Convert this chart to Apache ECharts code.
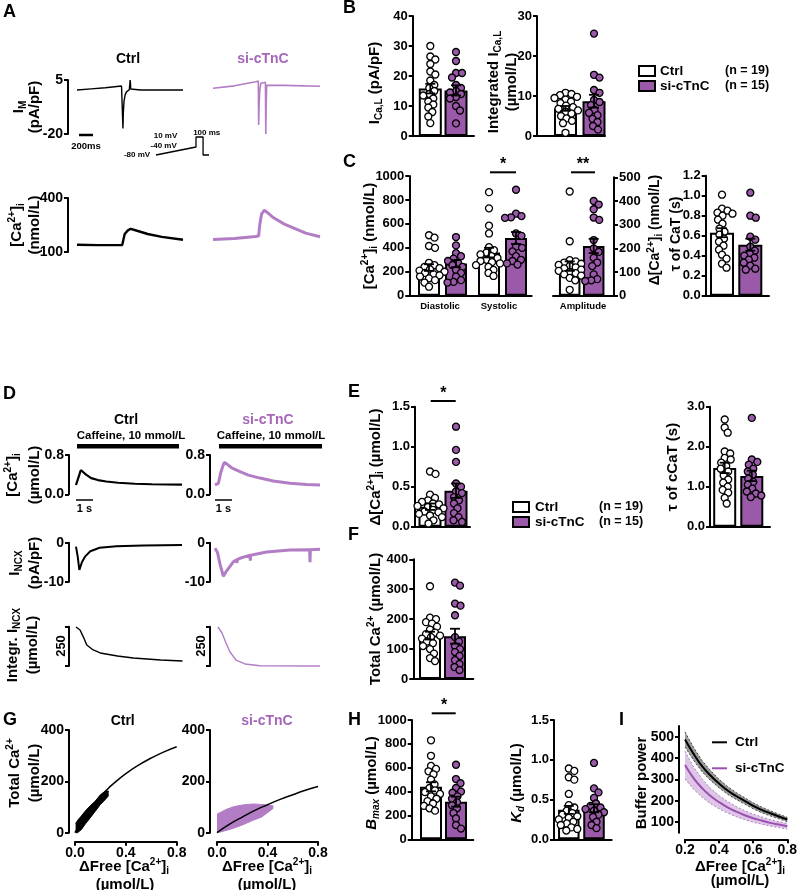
<!DOCTYPE html>
<html><head><meta charset="utf-8">
<script src="https://cdn.jsdelivr.net/npm/echarts@6/dist/echarts.min.js"></script>
<style>html,body{margin:0;padding:0;background:#fff}#c{width:800px;height:890px}</style>
</head><body><div id="c"></div>
<script>
// ================= DATA =================
const groupNames = ['Ctrl', 'si-cTnC'];
const groupN = [19, 15];
// Panel A traces: [time (ms), value]
const imCtrl = [[0,0.4],[200,0.9],[400,1.4],[630,2.2],[645,2.0],[650,-17.4],[656,-10],[665,-5],[680,-2],[700,-0.5],[740,0.5],[748,0.5],[752,5],[757,3.5],[760,0.8],[780,0.5],[900,0.4],[1500,0.4]];
const imSi = [[0,1.2],[300,2.3],[600,4.2],[635,4.5],[640,-15.8],[645,-8],[655,0],[670,3.5],[690,4.3],[735,4],[740,-20],[745,-8],[752,2.6],[760,2.8],[1000,2.5],[1500,2.1]];
const caACtrl = [[0,140],[300,138],[640,139],[655,165],[675,200],[720,220],[760,229],[850,218],[1000,200],[1200,184],[1500,168]];
const caASi = [[0,170],[300,175],[600,186],[640,190],[655,250],[680,310],[720,333],[760,320],[850,290],[1000,255],[1100,238],[1300,205],[1500,185]];
const protocol = [[0,-80],[566,-40],[566,10],[666,10],[666,-80],[750,-80]];
// Panel B
const icalCtrl = [30, 26.5, 25.5, 24, 21.5, 20.5, 18.5, 17, 16, 15, 14, 13.5, 12.5, 11.5, 10.5, 9.5, 8, 6.5, 4.3];
const icalSi = [28, 25, 21, 21, 19.5, 17, 16, 15, 14.5, 14, 13, 12.5, 10, 8.5, 4.2];
const icalMean = [15.8, 15.2], icalSem = [1.6, 1.7];
const intIcalCtrl = [10.8, 10.5, 10.2, 9.8, 9.5, 9.1, 8.6, 8.2, 7.6, 7.2, 6.8, 6.4, 6.0, 5.6, 5.0, 4.4, 3.8, 3.2, 0.8];
const intIcalSi = [25.6, 15.3, 14.6, 11.5, 10.8, 9.0, 8.5, 7.7, 6.5, 5.8, 5.2, 4.3, 3.5, 2.5, 1.6];
const intIcalMean = [6.9, 8.7], intIcalSem = [0.6, 1.6];
// Panel C
const diaCtrl = [505, 485, 415, 400, 275, 255, 240, 230, 220, 210, 200, 190, 180, 170, 160, 145, 130, 110, 75];
const diaSi = [490, 420, 355, 330, 310, 290, 275, 255, 240, 215, 190, 160, 130, 115, 110];
const sysCtrl = [865, 730, 585, 520, 405, 380, 360, 345, 330, 315, 300, 290, 280, 270, 255, 240, 215, 190, 165];
const sysSi = [885, 685, 665, 655, 650, 520, 500, 410, 400, 370, 330, 300, 290, 270, 260];
const caMean = [235, 268, 360, 482], caSem = [28, 30, 40, 50];
const caCategories = ['Diastolic', 'Systolic'];
const ampCtrl = [440, 230, 150, 145, 140, 135, 130, 125, 120, 115, 110, 105, 100, 95, 90, 85, 75, 65, 25];
const ampSi = [400, 385, 365, 330, 320, 235, 200, 185, 160, 140, 125, 90, 70, 65, 62];
const ampMean = [125, 210], ampSem = [20, 30];
const tauCtrl = [1.01, 0.87, 0.85, 0.83, 0.82, 0.80, 0.76, 0.72, 0.67, 0.64, 0.61, 0.57, 0.54, 0.50, 0.46, 0.41, 0.37, 0.32, 0.28];
const tauSi = [1.03, 0.80, 0.78, 0.59, 0.56, 0.49, 0.45, 0.42, 0.40, 0.38, 0.36, 0.33, 0.30, 0.27, 0.26];
const tauMean = [0.63, 0.51], tauSem = [0.045, 0.06];
// Panel D traces: [time (s), value]
const dCaCtrl = [[0,0.19],[0.1,0.21],[0.2,0.40],[0.28,0.49],[0.4,0.46],[0.6,0.40],[0.9,0.33],[1.3,0.29],[1.8,0.26],[2.5,0.235],[3.5,0.215],[4.5,0.205],[6.3,0.197]];
const dCaSi = [[0,0.19],[0.2,0.22],[0.35,0.45],[0.55,0.65],[0.7,0.62],[1.0,0.54],[1.5,0.46],[2.0,0.39],[2.7,0.33],[3.5,0.27],[4.5,0.225],[5.5,0.2],[6.3,0.19]];
const incxCtrl = [[0,-1.0],[0.1,-3.5],[0.2,-7.0],[0.35,-5.0],[0.55,-3.5],[0.85,-2.2],[1.4,-1.3],[2.4,-0.9],[4.0,-0.7],[6.3,-0.6]];
const incxSi = [[0,-1.4],[0.15,-2.5],[0.3,-5.5],[0.5,-8.6],[0.7,-7.2],[1.1,-4.9],[1.3,-4.4],[1.32,-5.2],[1.34,-4.3],[1.5,-4.0],[2.1,-3.2],[2.12,-4.6],[2.14,-3.2],[3.1,-2.4],[4.5,-1.9],[5.68,-1.8],[5.7,-5.0],[5.72,-1.8],[6.3,-1.7]];
const integCtrl = [[0,248],[0.24,229],[0.44,184],[0.64,134],[1.02,102],[1.44,83],[2.46,64],[3.41,51],[5.03,38],[6.33,32]];
const integSi = [[0.18,248],[0.42,210],[0.66,146],[0.9,89],[1.26,38],[1.8,13],[2.7,2],[6.3,0]];
// Panel E
const caffCtrl = [0.69, 0.66, 0.40, 0.36, 0.33, 0.31, 0.29, 0.28, 0.26, 0.25, 0.23, 0.21, 0.19, 0.18, 0.16, 0.14, 0.12, 0.08, 0.04];
const caffSi = [1.25, 0.96, 0.81, 0.54, 0.50, 0.44, 0.42, 0.37, 0.33, 0.29, 0.23, 0.17, 0.12, 0.08, 0.06];
const caffMean = [0.25, 0.45], caffSem = [0.04, 0.09];
const tauCCtrl = [2.68, 2.48, 2.35, 1.88, 1.83, 1.72, 1.68, 1.60, 1.52, 1.45, 1.38, 1.28, 1.18, 1.10, 1.00, 0.92, 0.85, 0.72, 0.58];
const tauCSi = [2.72, 1.68, 1.62, 1.55, 1.45, 1.38, 1.30, 1.20, 1.12, 1.05, 0.95, 0.88, 0.83, 0.78, 0.74];
const tauCMean = [1.47, 1.27], tauCSem = [0.13, 0.13];
// Panel F
const totCtrl = [310, 205, 200, 190, 185, 175, 165, 155, 150, 145, 140, 135, 125, 120, 110, 100, 85, 70, 60];
const totSi = [322, 312, 252, 245, 213, 140, 125, 110, 100, 90, 77, 63, 50, 40, 30];
const totMean = [145, 143], totSem = [13, 25];
// Panel G
const gCtrlX = [0.005, 0.02, 0.05, 0.08, 0.12, 0.16, 0.2, 0.24, 0.265];
const gCtrlLo = [0, 0, 12, 33, 58, 84, 110, 130, 145];
const gCtrlHi = [35, 48, 65, 84, 105, 123, 148, 162, 162];
const gCtrlFitX = [0, 0.05, 0.1, 0.15, 0.2, 0.25, 0.3, 0.4, 0.5, 0.6, 0.7, 0.8];
const gCtrlFitY = [0, 42, 79, 113, 141, 167, 190, 230, 263, 291, 315, 335];
const gSiX = [0, 0.03, 0.08, 0.13, 0.2, 0.29, 0.35, 0.4, 0.446];
const gSiLo = [0, 3, 10, 17, 30, 49, 60, 78, 95];
const gSiHi = [72, 80, 92, 101, 108, 112, 110, 108, 104];
const gSiFitX = [0, 0.1, 0.2, 0.3, 0.4, 0.5, 0.6, 0.7, 0.8];
const gSiFitY = [0, 33, 61, 87, 109, 130, 148, 165, 180];
// Panel H
const bmaxCtrl = [830, 700, 615, 590, 570, 545, 500, 460, 430, 410, 395, 380, 360, 340, 320, 300, 280, 260, 240];
const bmaxSi = [625, 505, 470, 430, 400, 390, 360, 340, 310, 285, 260, 220, 175, 120, 90];
const bmaxMean = [440, 315], bmaxSem = [38, 42];
const kdCtrl = [0.89, 0.86, 0.78, 0.75, 0.57, 0.43, 0.40, 0.36, 0.33, 0.31, 0.29, 0.27, 0.25, 0.22, 0.20, 0.18, 0.15, 0.13, 0.11];
const kdSi = [0.96, 0.64, 0.59, 0.52, 0.45, 0.42, 0.40, 0.38, 0.36, 0.34, 0.31, 0.28, 0.22, 0.18, 0.14];
const kdMean = [0.37, 0.39], kdSem = [0.05, 0.05];
// Panel I
const bpX = [0.2, 0.25, 0.3, 0.35, 0.4, 0.45, 0.5, 0.55, 0.6, 0.65, 0.7, 0.75, 0.8];
const bpCtrl = [487, 420, 362, 318, 280, 248, 222, 199, 176, 157, 141, 126, 112];
const bpCtrlHi = [522, 450, 388, 341, 300, 266, 238, 214, 190, 170, 153, 137, 122];
const bpCtrlLo = [452, 390, 336, 295, 260, 230, 206, 184, 162, 144, 129, 115, 102];
const bpSi = [367, 306, 259, 222, 193, 169, 149, 132, 118, 107, 96, 88, 80];
const bpSiHi = [432, 358, 302, 258, 224, 196, 173, 153, 137, 124, 111, 102, 93];
const bpSiLo = [302, 254, 216, 186, 162, 142, 125, 111, 99, 90, 81, 74, 67];

// ================= BUILD =================
const F = '"Liberation Sans", Arial, Helvetica, sans-serif';
const PF = '#9b59a9';      // purple fill
const PL = '#b27dc4';      // purple trace
const PT = '#a566b8';      // purple title
const grids = [], xAxes = [], yAxes = [], series = [], graphics = [];
const tickFont = {color:'#000', fontSize:13, fontWeight:'bold', fontFamily:F};
const axLine = {show:true, onZero:false, lineStyle:{color:'#000', width:2}};

function swarm(vals, pxPerVal, d) {
  const idx = vals.map((v,i)=>i).sort((a,b)=>vals[b]-vals[a]);
  const placed = [], off = new Array(vals.length);
  for (const i of idx) {
    const y = vals[i]*pxPerVal;
    let chosen = 0;
    for (let k = 0; k < 400; k++) {
      const cand = k === 0 ? 0 : (k % 2 ? 1 : -1) * Math.ceil(k/2) * 0.5;
      if (placed.every(p => Math.hypot(p.x - cand, p.y - y) >= d)) { chosen = cand; break; }
    }
    placed.push({x: chosen, y}); off[i] = chosen;
  }
  return off;
}
function errRender(params, api) {
  const x = api.value(0), m = api.value(1), s = api.value(2);
  const t = api.coord([x, m + s]), b = api.coord([x, m - s]);
  const hw = 5, st = {stroke:'#000', lineWidth:1.8};
  return {type:'group', children:[
    {type:'line', shape:{x1:t[0], y1:t[1], x2:b[0], y2:b[1]}, style:st},
    {type:'line', shape:{x1:t[0]-hw, y1:t[1], x2:t[0]+hw, y2:t[1]}, style:st},
    {type:'line', shape:{x1:b[0]-hw, y1:b[1], x2:b[0]+hw, y2:b[1]}, style:st}]};
}
function barPanel(p) {
  const gi = grids.length;
  const W = p.right - p.left, H = p.bottom - p.top;
  grids.push({left:p.left, top:p.top, width:W, height:H});
  const c0 = p.centers[0], ppu = p.centers[1] - p.centers[0];
  const xs = p.centers.map(c => 1 + (c - c0)/ppu);
  xAxes.push({gridIndex:gi, type:'value', min:1-(c0-p.left)/ppu, max:1+(p.right-c0)/ppu,
    axisLine:axLine, axisTick:{show:false}, axisLabel:{show:false}, splitLine:{show:false}});
  yAxes.push({gridIndex:gi, type:'value', position:p.yRight?'right':'left', min:0, max:p.yMax, interval:p.interval,
    axisLine:axLine, axisTick:{show:true, length:4, lineStyle:{color:'#000', width:2}},
    axisLabel:Object.assign({margin:5, formatter:v=>v.toFixed(p.dec||0)}, tickFont), splitLine:{show:false}});
  const pxPerVal = H / p.yMax;
  series.push({type:'bar', xAxisIndex:gi, yAxisIndex:gi, barWidth:p.barW, z:2, silent:true,
    data:p.groups.map((g,i)=>({value:[xs[i], g.mean], itemStyle:{color:g.si?PF:'#fff', borderColor:'#000', borderWidth:2}}))});
  p.groups.forEach((g,i)=>{
    const off = swarm(g.vals, pxPerVal, 5.8);
    series.push({type:'scatter', xAxisIndex:gi, yAxisIndex:gi, z:3, symbolSize:7, silent:true,
      itemStyle:{color:g.si?PF:'#fff', borderColor:'#000', borderWidth:1.3, opacity:1},
      data:g.vals.map((v,j)=>[xs[i] + off[j]/ppu, v])});
  });
  series.push({type:'custom', xAxisIndex:gi, yAxisIndex:gi, z:4, silent:true, clip:false,
    data:p.groups.map((g,i)=>[xs[i], g.mean, g.sem]), renderItem:errRender});
}
function tracePanel(p) {
  const gi = grids.length;
  grids.push({left:p.left, top:p.top, width:p.right-p.left, height:p.bottom-p.top});
  xAxes.push({gridIndex:gi, type:'value', min:p.xMin||0, max:p.xMax, show:false});
  const y = {gridIndex:gi, type:'value', min:p.yMin, max:p.yMax, show:!!p.ticks, splitLine:{show:false}};
  if (p.ticks) Object.assign(y, {position:'left', offset:p.offset||0, axisLine:axLine,
    axisTick:{show:true, length:4, customValues:p.ticks, lineStyle:{color:'#000', width:2}},
    axisLabel:Object.assign({show:!p.noLabels, customValues:p.ticks, margin:5, formatter:v=>v.toFixed(p.dec||0)}, tickFont, {fontSize:14})});
  yAxes.push(y);
  for (const s of p.lines) series.push({type:'line', xAxisIndex:gi, yAxisIndex:gi, data:s.data, showSymbol:false,
    symbol:'none', lineStyle:{color:s.color, width:s.width}, silent:true, z:3, clip:false});
  return gi;
}
function xyPanel(p) {
  const gi = grids.length;
  grids.push({left:p.left, top:p.top, width:p.width, height:p.height});
  xAxes.push({gridIndex:gi, type:'value', min:p.xMin, max:p.xMax, offset:p.xOff, axisLine:axLine,
    axisTick:{show:true, length:4, customValues:p.xTicks, lineStyle:{color:'#000', width:2}},
    axisLabel:Object.assign({customValues:p.xTicks, margin:4, formatter:v=>v.toFixed(1)}, tickFont, {fontSize:14}), splitLine:{show:false}});
  yAxes.push({gridIndex:gi, type:'value', min:p.yMin, max:p.yMax, offset:p.yOff, axisLine:axLine,
    axisTick:{show:true, length:4, customValues:p.yTicks, lineStyle:{color:'#000', width:2}},
    axisLabel:Object.assign({customValues:p.yTicks, margin:5, formatter:v=>v.toFixed(0)}, tickFont, {fontSize:14}), splitLine:{show:false}});
  return gi;
}
function bandSeries(gi, xs, lo, hi, fill, z, stroke, dash) {
  series.push({type:'custom', xAxisIndex:gi, yAxisIndex:gi, z:z, silent:true, clip:false,
    data:xs.map((x,i)=>[x, lo[i], hi[i]]),
    renderItem:(params, api) => {
      if (params.dataIndex !== 0) return null;
      const up = xs.map((x,i)=>api.coord([x, hi[i]]));
      const dn = xs.map((x,i)=>api.coord([x, lo[i]]));
      const kids = [{type:'polygon', shape:{points:up.concat(dn.slice().reverse())}, style:{fill:fill}}];
      if (stroke) {
        kids.push({type:'polyline', shape:{points:up}, style:{stroke:stroke, lineWidth:1, lineDash:dash, fill:null}});
        kids.push({type:'polyline', shape:{points:dn}, style:{stroke:stroke, lineWidth:1, lineDash:dash, fill:null}});
      }
      return {type:'group', children:kids};
    }});
}
function lineSeries(gi, xs, ys, color, width, z) {
  series.push({type:'line', xAxisIndex:gi, yAxisIndex:gi, data:xs.map((x,i)=>[x, ys[i]]), showSymbol:false,
    symbol:'none', smooth:true, lineStyle:{color:color, width:width}, silent:true, z:z||5, clip:false});
}
function rich(size) {
  const sm = Math.round(size*0.68);
  return {
    s:{fontSize:sm, fontWeight:'bold', fontFamily:F, verticalAlign:'bottom', lineHeight:sm},
    p:{fontSize:sm, fontWeight:'bold', fontFamily:F, verticalAlign:'top', lineHeight:sm},
    it:{fontSize:size, fontWeight:'bold', fontStyle:'italic', fontFamily:F},
    si:{fontSize:sm, fontWeight:'bold', fontStyle:'italic', fontFamily:F, verticalAlign:'bottom', lineHeight:sm}
  };
}
function txt(x, y, text, o) {
  o = o || {};
  const size = o.size || 15;
  graphics.push({type:'text', x:x, y:y, rotation:o.rot ? Math.PI/2 : 0, z:100, silent:true,
    style:{text:text, fill:o.color||'#000', fontSize:size, fontWeight:o.weight||'bold', fontFamily:F,
      align:o.align||'center', verticalAlign:'middle', textAlign:o.align||'center', textVerticalAlign:'middle',
      lineHeight:size+4, rich:rich(size)}});
}
function gline(x1, y1, x2, y2, w, c) {
  graphics.push({type:'line', z:100, silent:true, shape:{x1,y1,x2,y2}, style:{stroke:c||'#000', lineWidth:w||2}});
}
function grect(x, y, w, h, fill, stroke, lw) {
  graphics.push({type:'rect', z:100, silent:true, shape:{x, y, width:w, height:h}, style:{fill:fill, stroke:stroke||null, lineWidth:lw||0}});
}

// ---------- Panel A ----------
txt(3, 12, 'A', {size:18, align:'left'});
txt(128, 59, groupNames[0], {size:14});
txt(263, 59, groupNames[1], {size:14, color:PT});
tracePanel({left:77, right:183, top:80, bottom:134, xMax:1500, yMin:-20, yMax:5, offset:9, ticks:[-20,5],
  lines:[{data:imCtrl, color:'#000', width:1.4}]});
tracePanel({left:213, right:320, top:80, bottom:134, xMax:1500, yMin:-20, yMax:5,
  lines:[{data:imSi, color:PL, width:1.6}]});
tracePanel({left:77, right:183, top:198, bottom:252, xMax:1500, yMin:100, yMax:400, offset:9, ticks:[100,400],
  lines:[{data:caACtrl, color:'#000', width:2.4}]});
tracePanel({left:213, right:320, top:198, bottom:252, xMax:1500, yMin:100, yMax:400,
  lines:[{data:caASi, color:PL, width:3}]});
tracePanel({left:156, right:209, top:137, bottom:155, xMax:750, yMin:-80, yMax:10,
  lines:[{data:protocol, color:'#000', width:1.3}]});
txt(19, 107, 'I{s|M}', {rot:true}); txt(35, 107, '(pA/pF)', {rot:true});
txt(17, 225, '[Ca{p|2+}]{s|i}', {rot:true}); txt(35, 225, '(nmol/L)', {rot:true});
gline(79, 135, 93, 135, 2.5);
txt(86, 146, '200ms', {size:9.5});
txt(165.5, 136, '10 mV', {size:8}); txt(163.7, 145.7, '-40 mV', {size:8});
txt(137, 155, '-80 mV', {size:8}); txt(206.7, 132.3, '100 ms', {size:8});

// ---------- Panel B ----------
txt(343, 8, 'B', {size:18, align:'left'});
barPanel({left:412.7, right:474, top:16, bottom:136, centers:[430.3, 456], barW:23, yMax:40, interval:10,
  groups:[{vals:icalCtrl, mean:icalMean[0], sem:icalSem[0]}, {vals:icalSi, mean:icalMean[1], sem:icalSem[1], si:true}]});
barPanel({left:537, right:605, top:16, bottom:136, centers:[565.5, 594], barW:23, yMax:30, interval:10,
  groups:[{vals:intIcalCtrl, mean:intIcalMean[0], sem:intIcalSem[0]}, {vals:intIcalSi, mean:intIcalMean[1], sem:intIcalSem[1], si:true}]});
txt(375, 83, 'I{s|Ca,L} (pA/pF)', {rot:true});
txt(494, 82, 'Integrated I{s|Ca,L}', {rot:true}); txt(512, 82, '(µmol/L)', {rot:true});
grect(639, 66, 16, 10, '#fff', '#000', 2); grect(639, 81, 16, 10, PF, '#000', 2);
txt(660, 71, groupNames[0], {size:13.5, align:'left'}); txt(660, 86, groupNames[1], {size:13.5, align:'left'});
txt(725, 71, '(n = ' + groupN[0] + ')', {size:12.5, align:'left'}); txt(725, 86, '(n = ' + groupN[1] + ')', {size:12.5, align:'left'});

// ---------- Panel C ----------
txt(343, 162, 'C', {size:18, align:'left'});
barPanel({left:409.3, right:531.7, top:176, bottom:295.7, centers:[429, 456, 489, 516], barW:22, yMax:1000, interval:200,
  groups:[{vals:diaCtrl, mean:caMean[0], sem:caSem[0]}, {vals:diaSi, mean:caMean[1], sem:caSem[1], si:true},
          {vals:sysCtrl, mean:caMean[2], sem:caSem[2]}, {vals:sysSi, mean:caMean[3], sem:caSem[3], si:true}]});
barPanel({left:553, right:614, top:177.3, bottom:295.7, centers:[569.7, 593.7], barW:21.5, yMax:500, interval:100, yRight:true,
  groups:[{vals:ampCtrl, mean:ampMean[0], sem:ampSem[0]}, {vals:ampSi, mean:ampMean[1], sem:ampSem[1], si:true}]});
barPanel({left:705.7, right:769, top:175.7, bottom:295.7, centers:[722, 750.3], barW:24, yMax:1.2, interval:0.2, dec:1,
  groups:[{vals:tauCtrl, mean:tauMean[0], sem:tauSem[0]}, {vals:tauSi, mean:tauMean[1], sem:tauSem[1], si:true}]});
txt(370, 236, '[Ca{p|2+}]{s|i} (nmol/L)', {rot:true});
txt(655, 230, 'Δ[Ca{p|2+}]{s|i} (nmol/L)', {rot:true, size:14});
txt(676, 234, 'τ of CaT (s)', {rot:true, size:14});
txt(440, 306, caCategories[0], {size:9.5}); txt(499, 306, caCategories[1], {size:9.5}); txt(583, 306, 'Amplitude', {size:9.5});
gline(490, 172.3, 516, 172.3, 2); txt(503, 165, '*', {size:16});
gline(571, 172.3, 595, 172.3, 2); txt(583, 165, '**', {size:16});

// ---------- Panel D ----------
txt(3, 394, 'D', {size:18, align:'left'});
txt(126, 420, groupNames[0], {size:14}); txt(268, 420, groupNames[1], {size:14, color:PT});
txt(131, 436, 'Caffeine, 10 mmol/L', {size:11.5}); txt(271, 436, 'Caffeine, 10 mmol/L', {size:11.5});
grect(77, 444, 102, 4.5, '#000'); grect(219, 444, 103, 4.5, '#000');
tracePanel({left:76, right:182, top:455, bottom:494.3, xMax:6.3, yMin:0, yMax:0.8, offset:7, ticks:[0,0.8], dec:1,
  lines:[{data:dCaCtrl, color:'#000', width:2.2}]});
tracePanel({left:215, right:320, top:455, bottom:494.3, xMax:6.3, yMin:0, yMax:0.8, offset:5, ticks:[0,0.8], dec:1,
  lines:[{data:dCaSi, color:PL, width:3}]});
tracePanel({left:76, right:182, top:542.7, bottom:581.7, xMax:6.3, yMin:-10, yMax:0, offset:7, ticks:[-10,0],
  lines:[{data:incxCtrl, color:'#000', width:2}]});
tracePanel({left:215, right:320, top:542.7, bottom:581.7, xMax:6.3, yMin:-10, yMax:0, offset:5, ticks:[-10,0],
  lines:[{data:incxSi, color:PL, width:3}]});
tracePanel({left:76, right:182, top:626.7, bottom:666, xMax:6.3, yMin:0, yMax:250, offset:7, ticks:[0,250], noLabels:true,
  lines:[{data:integCtrl, color:'#000', width:1.4}]});
tracePanel({left:215, right:320, top:626.7, bottom:666, xMax:6.3, yMin:0, yMax:250, offset:5, ticks:[0,250], noLabels:true,
  lines:[{data:integSi, color:PL, width:1.4}]});
gline(76, 500, 93, 500, 1.5); txt(84.5, 509, '1 s', {size:11});
gline(215, 500, 232, 500, 1.5); txt(223.5, 509, '1 s', {size:11});
txt(61.5, 646, '250', {rot:true, size:13}); txt(201, 646, '250', {rot:true, size:13});
txt(13, 475, '[Ca{p|2+}]{s|i}', {rot:true}); txt(35, 475, '(µmol/L)', {rot:true});
txt(15, 563, 'I{s|NCX}', {rot:true}); txt(35, 563, '(pA/pF)', {rot:true});
txt(13, 645, 'Integr. I{s|NCX}', {rot:true}); txt(33, 645, '(µmol/L)', {rot:true});

// ---------- Panel E ----------
txt(348, 392, 'E', {size:18, align:'left'});
barPanel({left:415, right:470, top:406.7, bottom:526.7, centers:[430, 456], barW:23, yMax:1.5, interval:0.5, dec:1,
  groups:[{vals:caffCtrl, mean:caffMean[0], sem:caffSem[0]}, {vals:caffSi, mean:caffMean[1], sem:caffSem[1], si:true}]});
barPanel({left:710, right:770, top:406.7, bottom:526.7, centers:[724.7, 751.8], barW:23, yMax:3, interval:1, dec:1,
  groups:[{vals:tauCCtrl, mean:tauCMean[0], sem:tauCSem[0]}, {vals:tauCSi, mean:tauCMean[1], sem:tauCSem[1], si:true}]});
gline(430.7, 401, 455.7, 401, 2); txt(443.3, 394, '*', {size:16});
txt(376, 467, 'Δ[Ca{p|2+}]{s|i} (µmol/L)', {rot:true});
txt(673, 467, 'τ of cCaT (s)', {rot:true});
grect(513, 502, 16, 10, '#fff', '#000', 2); grect(513, 517, 16, 10, PF, '#000', 2);
txt(535, 507, groupNames[0], {size:13.5, align:'left'}); txt(535, 522, groupNames[1], {size:13.5, align:'left'});
txt(599, 507, '(n = ' + groupN[0] + ')', {size:12.5, align:'left'}); txt(599, 522, '(n = ' + groupN[1] + ')', {size:12.5, align:'left'});

// ---------- Panel F ----------
txt(348, 535, 'F', {size:18, align:'left'});
barPanel({left:413.3, right:473.3, top:559.3, bottom:679, centers:[430, 455], barW:22, yMax:400, interval:100,
  groups:[{vals:totCtrl, mean:totMean[0], sem:totSem[0]}, {vals:totSi, mean:totMean[1], sem:totSem[1], si:true}]});
txt(376, 619, 'Total Ca{p|2+} (µmol/L)', {rot:true});

// ---------- Panel G ----------
txt(3, 720, 'G', {size:18, align:'left'});
txt(122.7, 721, groupNames[0], {size:14}); txt(267, 721, groupNames[1], {size:14, color:PT});
const g1 = xyPanel({left:75, top:730, width:101.7, height:102.7, xMin:0, xMax:0.8, xTicks:[0,0.4,0.8], xOff:9,
  yMin:0, yMax:400, yTicks:[0,200,400], yOff:6});
bandSeries(g1, gCtrlX, gCtrlLo, gCtrlHi, '#000', 3, '#000', null);
lineSeries(g1, gCtrlFitX, gCtrlFitY, '#000', 1.5, 5);
const g2 = xyPanel({left:217, top:730, width:101, height:102.7, xMin:0, xMax:0.8, xTicks:[0,0.4,0.8], xOff:9,
  yMin:0, yMax:400, yTicks:[0,200,400], yOff:7});
bandSeries(g2, gSiX, gSiLo, gSiHi, PL, 3, PL, null);
lineSeries(g2, gSiFitX, gSiFitY, '#000', 1.5, 5);
txt(15, 773, 'Total Ca{p|2+}', {rot:true}); txt(35, 773, '(µmol/L)', {rot:true});
txt(124, 867, 'ΔFree [Ca{p|2+}]{s|i}'); txt(125, 885, '(µmol/L)');
txt(267, 867, 'ΔFree [Ca{p|2+}]{s|i}'); txt(267, 885, '(µmol/L)');

// ---------- Panel H ----------
txt(348, 720, 'H', {size:18, align:'left'});
barPanel({left:411.7, right:473.3, top:720, bottom:839.3, centers:[431, 456], barW:22, yMax:1000, interval:200,
  groups:[{vals:bmaxCtrl, mean:bmaxMean[0], sem:bmaxSem[0]}, {vals:bmaxSi, mean:bmaxMean[1], sem:bmaxSem[1], si:true}]});
barPanel({left:554, right:611.7, top:720, bottom:839.3, centers:[568.8, 594], barW:21.5, yMax:1.5, interval:0.5, dec:1,
  groups:[{vals:kdCtrl, mean:kdMean[0], sem:kdSem[0]}, {vals:kdSi, mean:kdMean[1], sem:kdSem[1], si:true}]});
gline(431.7, 713.3, 455.7, 713.3, 2); txt(444, 706, '*', {size:16});
txt(372, 783, '{it|B}{si|max} (µmol/L)', {rot:true});
txt(517, 783, '{it|K}{si|d} (µmol/L)', {rot:true});

// ---------- Panel I ----------
txt(619, 720, 'I', {size:18, align:'left'});
const gi9 = xyPanel({left:685, top:726, width:107.7, height:106.7, xMin:0.2, xMax:0.8, xTicks:[0.2,0.4,0.6,0.8], xOff:6.6,
  yMin:50, yMax:550, yTicks:[100,200,300,400,500], yOff:6});
bandSeries(gi9, bpX, bpCtrlLo, bpCtrlHi, 'rgba(120,120,120,0.75)', 2, '#444', [2,2]);
bandSeries(gi9, bpX, bpSiLo, bpSiHi, 'rgba(200,160,215,0.6)', 2, '#b07cc3', [2,2]);
lineSeries(gi9, bpX, bpCtrl, '#000', 2, 5);
lineSeries(gi9, bpX, bpSi, '#9b4fb0', 2, 5);
gline(712, 742.3, 727, 742.3, 2, '#000'); txt(735, 742, groupNames[0], {size:13.5, align:'left'});
gline(712, 768.3, 727, 768.3, 2, '#9b4fb0'); txt(735, 768, groupNames[1], {size:13.5, align:'left'});
txt(642, 783, 'Buffer power', {rot:true});
txt(740, 867, 'ΔFree [Ca{p|2+}]{s|i}'); txt(740, 881, '(µmol/L)');

const chart = echarts.init(document.getElementById('c'), null, {renderer:'canvas', width:800, height:890});
chart.setOption({
  animation:false,
  textStyle:{fontFamily:F},
  grid:grids, xAxis:xAxes, yAxis:yAxes, series:series,
  graphic:{elements:graphics}
});
</script>
</body></html>
